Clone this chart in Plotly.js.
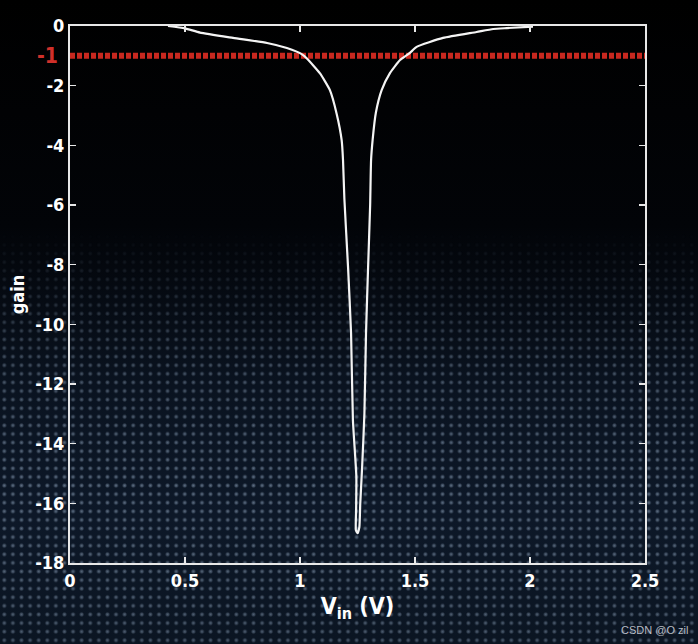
<!DOCTYPE html>
<html>
<head>
<meta charset="utf-8">
<script src="https://cdn.plot.ly/plotly-3.0.1.min.js"></script>
<style>
  html, body { margin: 0; padding: 0; background: #000; }
  #wrap { position: relative; width: 698px; height: 644px; overflow: hidden; background: linear-gradient(to bottom, #000 0%, #020408 35%, #0a1320 60%, #0d1828 80%, #0b1522 100%); }
  #dots { position: absolute; left: 0; top: 0; width: 698px; height: 644px;
    background-image: radial-gradient(circle, rgba(120,138,160,0.75) 0px, rgba(110,128,150,0.55) 1.3px, rgba(0,0,0,0) 2.5px);
    background-size: 8.6px 8.6px;
    -webkit-mask-image: linear-gradient(to bottom, rgba(0,0,0,0) 0%, rgba(0,0,0,0) 36%, rgba(0,0,0,0.7) 55%, rgba(0,0,0,1) 75%, rgba(0,0,0,0.8) 100%);
    mask-image: linear-gradient(to bottom, rgba(0,0,0,0) 0%, rgba(0,0,0,0) 36%, rgba(0,0,0,0.7) 55%, rgba(0,0,0,1) 75%, rgba(0,0,0,0.8) 100%);
  }
  #chart { position: absolute; left: 0; top: 0; width: 698px; height: 644px; }
</style>
</head>
<body>
<div id="wrap"><div id="dots"></div><div id="chart"></div></div>
<script>
// Gain vs input voltage
const vin = [0.426, 0.50, 0.565, 0.709, 0.857, 0.943, 1.009, 1.029, 1.087, 1.130, 1.159, 1.181, 1.187, 1.193, 1.209, 1.222, 1.230, 1.245, 1.244, 1.243, 1.250, 1.258, 1.262, 1.270, 1.280, 1.287, 1.296, 1.305, 1.309, 1.316, 1.330, 1.355, 1.391, 1.435, 1.478, 1.507, 1.622, 1.768, 1.840, 1.899, 2.013];
const gain = [0.0, -0.08, -0.22, -0.40, -0.57, -0.74, -0.95, -1.08, -1.59, -2.15, -2.93, -3.82, -4.49, -5.8, -8.1, -10.3, -13.2, -15.1, -16.2, -16.9, -17.0, -16.8, -16.0, -14.8, -13.0, -10.3, -8.1, -6.0, -4.5, -3.8, -2.9, -2.15, -1.58, -1.14, -0.90, -0.70, -0.40, -0.20, -0.10, -0.07, -0.02];
// Reference level
const refX = [0, 2.5];
const refY = [-1, -1];
const xTicks = [0, 0.5, 1, 1.5, 2, 2.5];
const xTickText = ['0', '0.5', '1', '1.5', '2', '2.5'];
const yTicks = [0, -2, -4, -6, -8, -10, -12, -14, -16, -18];
const yTickText = ['0', '-2', '-4', '-6', '-8', '-10', '-12', '-14', '-16', '-18'];

const fontFam = '"Liberation Sans Narrow", "DejaVu Sans Condensed", "Liberation Sans", Arial, sans-serif';

const traces = [
  { x: refX, y: refY, mode: 'lines', line: { color: '#c8281f', width: 6, dash: '5px,2px' }, hoverinfo: 'skip', showlegend: false },
  { x: vin, y: gain, mode: 'lines', line: { color: '#f4f4f4', width: 2.2, shape: 'spline', smoothing: 0.5 }, showlegend: false }
];

const axisCommon = {
  showgrid: false, zeroline: false,
  showline: true, linecolor: '#e8e8e8', linewidth: 2,
  mirror: 'ticks', ticks: 'inside', ticklen: 6, tickwidth: 1.5, tickcolor: '#e8e8e8',
  tickfont: { family: fontFam, size: 18, color: '#ffffff', weight: 'bold' }
};

const layout = {
  width: 698, height: 644,
  margin: { l: 70, r: 53, t: 26, b: 81 },
  paper_bgcolor: 'rgba(0,0,0,0)',
  plot_bgcolor: 'rgba(0,0,0,0)',
  xaxis: Object.assign({}, axisCommon, {
    range: [0, 2.5], tickvals: xTicks, ticktext: xTickText,
    title: { text: 'V<sub>in</sub> (V)', font: { family: fontFam, size: 23, color: '#ffffff', weight: 'bold' }, standoff: 8 }
  }),
  yaxis: Object.assign({}, axisCommon, {
    range: [-18, 0], tickvals: yTicks, ticktext: yTickText,
    title: { text: 'gain', font: { family: fontFam, size: 18, color: '#ffffff', weight: 'bold' }, standoff: 6 }
  }),
  annotations: [
    { xref: 'paper', yref: 'y', x: 0, y: -1, xanchor: 'right', yanchor: 'middle', xshift: -10, showarrow: false,
      text: '-1', font: { family: fontFam, size: 21, color: '#d0302a', weight: 'bold' } },
    { xref: 'paper', yref: 'paper', x: 1.078, y: -0.125, xanchor: 'right', yanchor: 'middle', showarrow: false,
      text: 'CSDN @O zil', font: { family: '"Liberation Sans Narrow", "Liberation Sans", Arial, sans-serif', size: 11, color: '#b8bcc4' } }
  ],
  showlegend: false
};

Plotly.newPlot('chart', traces, layout, { displayModeBar: false, staticPlot: true });
</script>
</body>
</html>
